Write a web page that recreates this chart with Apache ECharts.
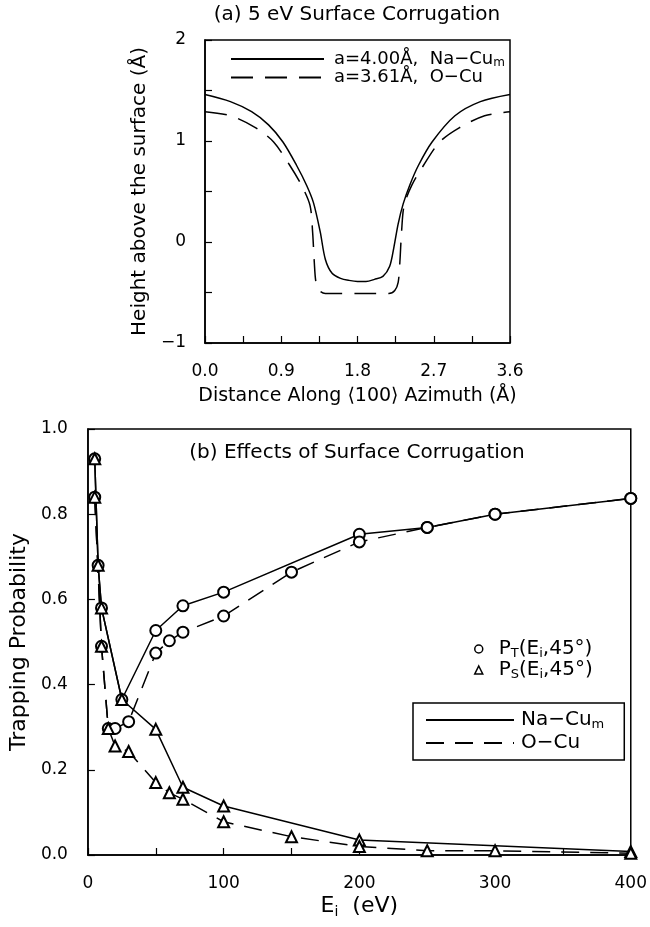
<!DOCTYPE html>
<html>
<head>
<meta charset="utf-8">
<script src="https://cdn.jsdelivr.net/npm/echarts@6/dist/echarts.min.js"></script>
<style>
html, body { margin: 0; padding: 0; background: #fff; }
#chart { width: 650px; height: 927px; }
</style>
</head>
<body>
<div id="chart"></div>
<script>
// (a) corrugation profiles, distance (Å) / height (Å)
const naCuX = [0, 0.3, 0.55, 0.75, 0.92, 1.08, 1.2, 1.28, 1.36, 1.42, 1.5, 1.6, 1.7, 1.8, 1.9, 2.0, 2.1, 2.18, 2.23, 2.28, 2.34, 2.42, 2.52, 2.68, 2.95, 3.25, 3.6];
const naCuH = [1.46, 1.39, 1.29, 1.16, 0.99, 0.76, 0.56, 0.39, 0.10, -0.17, -0.31, -0.36, -0.38, -0.39, -0.39, -0.37, -0.34, -0.24, -0.05, 0.18, 0.38, 0.57, 0.76, 0.99, 1.25, 1.39, 1.46];
const oCuX = [0, 0.3, 0.6, 0.81, 1.0, 1.14, 1.24, 1.27, 1.29, 1.31, 1.35, 1.42, 1.6, 1.8, 2.0, 2.17, 2.24, 2.28, 2.30, 2.32, 2.35, 2.44, 2.58, 2.77, 3.0, 3.3, 3.6];
const oCuH = [1.29, 1.25, 1.13, 0.99, 0.76, 0.56, 0.36, 0.10, -0.20, -0.40, -0.48, -0.51, -0.51, -0.51, -0.51, -0.51, -0.48, -0.40, -0.20, 0.10, 0.36, 0.56, 0.76, 0.99, 1.13, 1.25, 1.29];

// (b) trapping probabilities vs Ei (eV)
const ptNaE = [5, 7.5, 10, 25, 50, 70, 100, 200, 250, 300, 400];
const ptNaP = [0.93, 0.68, 0.58, 0.365, 0.527, 0.585, 0.617, 0.753, 0.769, 0.80, 0.837];
const psNaE = [5, 7.5, 10, 25, 50, 70, 100, 200, 400];
const psNaP = [0.93, 0.68, 0.58, 0.365, 0.295, 0.159, 0.115, 0.035, 0.008];
const ptOE = [5, 10, 15, 20, 30, 50, 60, 70, 100, 150, 200, 250, 300, 400];
const ptOP = [0.84, 0.49, 0.297, 0.297, 0.313, 0.474, 0.503, 0.523, 0.561, 0.664, 0.735, 0.769, 0.80, 0.837];
const psOE = [5, 10, 15, 20, 30, 50, 60, 70, 100, 150, 200, 250, 300, 400];
const psOP = [0.84, 0.49, 0.297, 0.256, 0.243, 0.170, 0.146, 0.131, 0.078, 0.043, 0.020, 0.010, 0.010, 0.004];

const FONT = 'DejaVu Sans';
const BLACK = '#000';
const pairs = (xs, ys) => xs.map((x, i) => [x, ys[i]]);

// rich styles: t = normal text, s = subscript
function rich(size, lh) {
    const sub = Math.round(size * 0.65);
    return {
        t: { fontFamily: FONT, fontSize: size, lineHeight: lh, color: BLACK },
        s: { fontFamily: FONT, fontSize: sub, lineHeight: sub, verticalAlign: 'bottom', color: BLACK }
    };
}

const legendText = {
    naTop: '{t|a=4.00Å,  Na−Cu}{s|m}',
    oTop: '{t|a=3.61Å,  O−Cu}',
    pt: '{t|P}{s|T}{t|(E}{s|i}{t|,45°)}',
    ps: '{t|P}{s|S}{t|(E}{s|i}{t|,45°)}',
    naB: '{t|Na−Cu}{s|m}',
    oB: '{t|O−Cu}'
};

function axisBase(extra) {
    return Object.assign({
        type: 'value',
        axisLine: { show: true, onZero: false, lineStyle: { color: BLACK, width: 1.5 } },
        axisTick: { show: true, inside: true, length: 7, lineStyle: { color: BLACK, width: 1.2 } },
        minorTick: { show: true, splitNumber: 2, length: 7, lineStyle: { color: BLACK, width: 1.2 } },
        splitLine: { show: false },
        nameLocation: 'middle'
    }, extra);
}

const lineSolid = { color: BLACK, width: 1.5, type: 'solid' };
const lineDashTop = { color: BLACK, width: 1.5, type: [22, 12] };
const lineDashB = { color: BLACK, width: 1.5, type: [18, 11] };
const circle = { symbol: 'emptyCircle', symbolSize: 11, itemStyle: { color: BLACK, borderWidth: 1.5 } };
const tri = { symbol: 'emptyTriangle', symbolSize: 11, itemStyle: { color: BLACK, borderWidth: 1.5 } };

const chart = echarts.init(document.getElementById('chart'));
chart.setOption({
    animation: false,
    backgroundColor: '#fff',
    textStyle: { fontFamily: FONT, color: BLACK },
    title: [
        {
            text: '(a) 5 eV Surface Corrugation', left: 357, top: 5, padding: 0, textAlign: 'center',
            textStyle: { fontFamily: FONT, fontSize: 20, fontWeight: 'normal', color: BLACK }
        },
        {
            text: '(b) Effects of Surface Corrugation', left: 357, top: 443, padding: 0, textAlign: 'center',
            textStyle: { fontFamily: FONT, fontSize: 20, fontWeight: 'normal', color: BLACK }
        }
    ],
    grid: [
        { left: 205, top: 40, width: 305, height: 303, show: true, borderColor: BLACK, borderWidth: 1.5 },
        { left: 84, top: 429, width: 548, height: 426, show: true, borderColor: BLACK, borderWidth: 1.5 }
    ],
    xAxis: [
        axisBase({
            gridIndex: 0, min: 0, max: 3.6, interval: 0.9,
            axisLabel: { fontSize: 17, color: BLACK, margin: 20, formatter: v => v.toFixed(1) },
            name: 'Distance Along ⟨100⟩ Azimuth (Å)', nameGap: 44,
            nameTextStyle: { fontSize: 19, color: BLACK }
        }),
        axisBase({
            gridIndex: 1, min: 0, max: 400, interval: 100,
            axisLabel: { fontSize: 17, color: BLACK, margin: 20 },
            name: '{t|E}{s|i}{t|  (eV)}', nameGap: 38,
            nameTextStyle: { rich: rich(22, 26) }
        })
    ],
    yAxis: [
        axisBase({
            gridIndex: 0, min: -1, max: 2, interval: 1,
            axisLabel: { fontSize: 17, color: BLACK, margin: 19, formatter: v => v < 0 ? '−' + (-v) : String(v) },
            name: 'Height above the surface (Å)', nameGap: 55, nameRotate: 90,
            nameTextStyle: { fontSize: 20, color: BLACK }
        }),
        axisBase({
            gridIndex: 1, min: 0, max: 1, interval: 0.2,
            minorTick: { show: false },
            axisLabel: { fontSize: 17, color: BLACK, margin: 20, formatter: v => v.toFixed(1) },
            name: 'Trapping Probability', nameGap: 55, nameRotate: 90,
            nameTextStyle: { fontSize: 22, color: BLACK }
        })
    ],
    legend: [
        {
            data: ['naTop', 'oTop'], orient: 'vertical', left: 230, top: 50, padding: 0,
            itemWidth: 93, itemHeight: 10, itemGap: 0, selectedMode: false,
            itemStyle: { opacity: 0 },
            formatter: n => legendText[n],
            textStyle: { padding: [0, 0, 0, 5], rich: rich(18, 19) }
        },
        {
            data: [
                { name: 'pt', icon: 'circle', itemStyle: { color: '#fff', borderColor: BLACK, borderWidth: 1.5 } },
                { name: 'ps', icon: 'triangle', itemStyle: { color: '#fff', borderColor: BLACK, borderWidth: 1.5 } }
            ],
            orient: 'vertical', left: 474, top: 639, padding: 0,
            itemWidth: 8, itemHeight: 8, itemGap: 0, selectedMode: false,
            formatter: n => legendText[n],
            textStyle: { padding: [0, 0, 0, 11], rich: rich(20, 22) }
        },
        {
            data: ['naB', 'oB'], orient: 'vertical', left: 413, top: 703, padding: [7, 20, 7, 12],
            itemWidth: 88, itemHeight: 10, itemGap: 2, selectedMode: false,
            borderColor: BLACK, borderWidth: 1.5,
            itemStyle: { opacity: 0 },
            formatter: n => legendText[n],
            textStyle: { padding: [0, 0, 0, 2], rich: rich(20, 22) }
        }
    ],
    series: [
        // (a)
        { type: 'line', name: 'naTop', xAxisIndex: 0, yAxisIndex: 0, data: pairs(naCuX, naCuH), symbol: 'none', smooth: 0.3, lineStyle: lineSolid },
        { type: 'line', name: 'oTop', xAxisIndex: 0, yAxisIndex: 0, data: pairs(oCuX, oCuH), symbol: 'none', smooth: 0.3, lineStyle: lineDashTop },
        // (b)
        Object.assign({ type: 'line', name: 'ptNa', xAxisIndex: 1, yAxisIndex: 1, data: pairs(ptNaE, ptNaP), lineStyle: lineSolid }, circle),
        Object.assign({ type: 'line', name: 'ptO', xAxisIndex: 1, yAxisIndex: 1, data: pairs(ptOE, ptOP), lineStyle: lineDashB }, circle),
        Object.assign({ type: 'line', name: 'psNa', xAxisIndex: 1, yAxisIndex: 1, data: pairs(psNaE, psNaP), lineStyle: lineSolid }, tri),
        Object.assign({ type: 'line', name: 'psO', xAxisIndex: 1, yAxisIndex: 1, data: pairs(psOE, psOP), lineStyle: lineDashB }, tri),
        // legend-only entries
        { type: 'line', name: 'pt', xAxisIndex: 1, yAxisIndex: 1, data: [] },
        { type: 'line', name: 'ps', xAxisIndex: 1, yAxisIndex: 1, data: [] },
        { type: 'line', name: 'naB', xAxisIndex: 1, yAxisIndex: 1, data: [], symbol: 'none', lineStyle: lineSolid },
        { type: 'line', name: 'oB', xAxisIndex: 1, yAxisIndex: 1, data: [], symbol: 'none', lineStyle: lineDashB }
    ]
});
</script>
</body>
</html>
